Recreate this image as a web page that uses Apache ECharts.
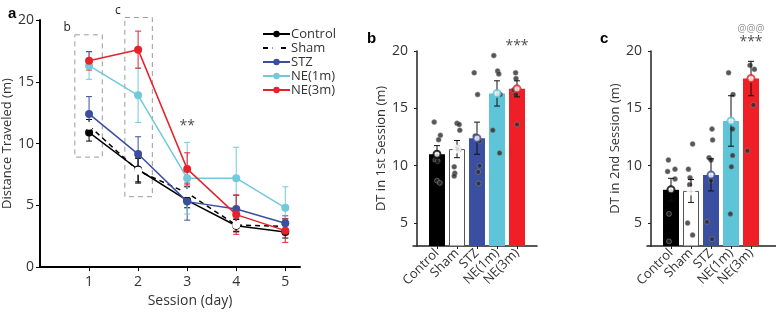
<!DOCTYPE html>
<html><head><meta charset="utf-8">
<script src="https://cdn.jsdelivr.net/npm/echarts@6/dist/echarts.min.js"></script>
<style>html,body{margin:0;padding:0;background:#fff}#c{width:776px;height:313px}</style>
</head><body><div id="c"></div>
<script>
// ---------- data ----------
const groups = ['Control', 'Sham', 'STZ', 'NE(1m)', 'NE(3m)'];
const sessions = [1, 2, 3, 4, 5];
const sessionTicks = [1, 2, 3, 4, 5];
const yTicksA = [0, 5, 10, 15, 20];
const yTicksBC = [5, 10, 15, 20];

const controlMean = [10.9, 7.9, 5.4, 3.35, 2.85];
const controlErr  = [0.7, 1.0, 0.6, 0.5, 0.5];
const shamMean    = [11.45, 7.8, 6.0, 3.4, 3.3];
const shamErr     = [0.5, 1.0, 0.5, 0.5, 0.6];
const stzMean     = [12.4, 9.15, 5.3, 4.7, 3.55];
const stzErr      = [1.4, 1.4, 1.5, 1.1, 0.6];
const ne1Mean     = [16.3, 13.9, 7.2, 7.2, 4.8];
const ne1Err      = [1.1, 2.2, 2.9, 2.5, 1.7];
const ne3Mean     = [16.7, 17.6, 7.95, 4.25, 2.95];
const ne3Err      = [0.75, 1.5, 1.3, 1.6, 0.95];

// dashed highlight boxes in panel a: [xFrom, xTo, yBottom, yTop, label]
const boxes = [[0.71, 1.27, 8.9, 18.8, 'b'], [1.73, 2.29, 5.7, 20.2, 'c']];

// panel b: 1st session
const s1Mean = [11.0, 11.45, 12.4, 16.3, 16.7];
const s1Err  = [0.75, 0.75, 1.4, 1.1, 0.7];
// individual animals: [jitter (category units), value]
const s1Dots = [
  [[-0.14, 13.8], [0.17, 12.65], [0.08, 12.27], [-0.08, 10.5], [0.03, 10.4], [0, 8.7], [0.14, 8.5]],
  [[0, 13.7], [0.11, 13.6], [0.14, 13.1], [0.03, 11.6], [0.09, 11.4], [-0.14, 9.9], [-0.11, 9.35], [-0.14, 9.1]],
  [[-0.14, 18.1], [0.03, 16.2], [-0.09, 12.6], [0.03, 12.35], [0.13, 12.15], [0.13, 10.0], [0.06, 9.45], [0.08, 8.45]],
  [[-0.16, 19.6], [0.03, 18.25], [0.09, 18.0], [0.16, 16.2], [-0.21, 13.1], [0.13, 11.1]],
  [[-0.07, 18.1], [-0.05, 17.6], [-0.03, 16.8], [-0.17, 16.6], [0.03, 16.5], [-0.08, 16.2], [0, 13.6]]
];
// panel c: 2nd session
const s2Mean = [7.9, 7.8, 9.2, 13.9, 17.6];
const s2Err  = [1.0, 1.0, 1.4, 2.2, 1.5];
const s2Dots = [
  [[-0.13, 10.5], [-0.17, 9.5], [0.2, 9.7], [0.2, 8.85], [-0.1, 5.8], [-0.1, 3.4]],
  [[0.08, 11.9], [-0.13, 9.7], [-0.05, 8.95], [-0.07, 8.35], [-0.17, 5.0], [0.08, 3.95]],
  [[0.05, 13.2], [0.08, 12.25], [-0.1, 10.7], [0, 10.5], [0, 8.7], [-0.2, 5.1], [0.05, 3.6]],
  [[-0.12, 18.1], [0.1, 16.2], [0.08, 13.2], [0.08, 10.9], [0.02, 9.9], [-0.03, 5.8]],
  [[-0.05, 18.75], [0.17, 18.4], [0.12, 15.3], [-0.18, 11.3]]
];
// significance marks: [panel, x, y, text]
const marks = [[0, 3, 11.4, '**'], [1, 5, 20.4, '***'], [2, 5, 20.8, '***'], [2, 5, 21.9, '@@@']];

// ---------- styles ----------
const FONT = 'Open Sans';
const lineColors = ['#000000', '#000000', '#3c4f9e', '#72c9da', '#e5222b'];
const barColors  = ['#000000', '#ffffff', '#3b4fa1', '#5ec4d8', '#ee1f27'];
const means = [controlMean, shamMean, stzMean, ne1Mean, ne3Mean];
const errs  = [controlErr, shamErr, stzErr, ne1Err, ne3Err];

function errRender(cap, lw) {
  return function (params, api) {
    const x = api.value(0), lo = api.value(1), hi = api.value(2);
    const a = api.coord([x, hi]), b = api.coord([x, lo]);
    const st = { stroke: api.visual('color'), lineWidth: lw };
    return { type: 'group', children: [
      { type: 'line', shape: { x1: a[0], y1: a[1], x2: b[0], y2: b[1] }, style: st },
      { type: 'line', shape: { x1: a[0] - cap, y1: a[1], x2: a[0] + cap, y2: a[1] }, style: st },
      { type: 'line', shape: { x1: b[0] - cap, y1: b[1], x2: b[0] + cap, y2: b[1] }, style: st }
    ]};
  };
}

const series = [];
// panel a: error bars
groups.forEach((g, i) => {
  series.push({
    type: 'custom', xAxisIndex: 0, yAxisIndex: 0, z: 2,
    itemStyle: { color: lineColors[i] },
    renderItem: errRender(3, 1),
    data: sessions.map((s, k) => [s, means[i][k] - errs[i][k], means[i][k] + errs[i][k]]),
    silent: true
  });
});
// panel a: lines
groups.forEach((g, i) => {
  const sham = g === 'Sham';
  series.push({
    name: g, type: 'line', xAxisIndex: 0, yAxisIndex: 0, z: 3 + i,
    symbol: sham ? 'emptyCircle' : 'circle', symbolSize: sham ? 6 : 8,
    color: lineColors[i],
    lineStyle: { width: 1.5, color: lineColors[i], type: sham ? [5, 4] : 'solid' },
    itemStyle: { color: sham ? '#fff' : lineColors[i], borderColor: lineColors[i], borderWidth: sham ? 1.5 : 0 },
    data: sessions.map((s, k) => [s, means[i][k]])
  });
});
// panel a: dashed boxes
series.push({
  type: 'custom', xAxisIndex: 0, yAxisIndex: 0, z: 1, silent: true, clip: false,
  renderItem: function (params, api) {
    const p1 = api.coord([api.value(0), api.value(3)]);
    const p2 = api.coord([api.value(1), api.value(2)]);
    return { type: 'group', children: [
      { type: 'rect', shape: { x: p1[0], y: p1[1], width: p2[0] - p1[0], height: p2[1] - p1[1] },
        style: { fill: 'none', stroke: '#9a9a9a', lineWidth: 1, lineDash: [5, 4] } },
      { type: 'text', x: p1[0] - 4, y: p1[1] - 1,
        style: { text: boxes[params.dataIndex][4], fill: '#222', font: '12px ' + FONT, align: 'right', verticalAlign: 'bottom' } }
    ]};
  },
  data: boxes.map(b => [b[0], b[1], b[2], b[3]])
});

// panels b, c
function barPanel(idx, meanArr, errArr, dots) {
  series.push({
    type: 'bar', xAxisIndex: idx, yAxisIndex: idx, barWidth: 16, clip: true, z: 1,
    data: meanArr.map((v, i) => ({ value: [i + 1, v],
      itemStyle: { color: barColors[i], borderColor: i === 1 ? '#555' : barColors[i], borderWidth: i === 1 ? 1 : 0 } })),
    silent: true
  });
  const pts = [];
  dots.forEach((arr, i) => arr.forEach(d => pts.push([i + 1 + d[0], d[1]])));
  series.push({
    type: 'scatter', xAxisIndex: idx, yAxisIndex: idx, z: 3, symbolSize: 5, silent: true,
    itemStyle: { color: '#2c2c2c', borderColor: '#8c8c8c', borderWidth: 0.7 },
    data: pts
  });
  series.push({
    type: 'custom', xAxisIndex: idx, yAxisIndex: idx, z: 4, silent: true,
    itemStyle: { color: '#111' },
    renderItem: errRender(3, 1),
    data: meanArr.map((v, i) => [i + 1, v - errArr[i], v + errArr[i]])
  });
  series.push({
    type: 'scatter', xAxisIndex: idx, yAxisIndex: idx, z: 5, symbol: 'emptyCircle', symbolSize: 7, silent: true,
    data: meanArr.map((v, i) => ({ value: [i + 1, v],
      itemStyle: { color: i === 0 ? '#000' : barColors[i], borderColor: i === 0 ? '#aaa' : '#222', borderWidth: 1.2 } }))
  });
}
barPanel(1, s1Mean, s1Err, s1Dots);
barPanel(2, s2Mean, s2Err, s2Dots);

// significance marks
marks.forEach(m => {
  series.push({
    type: 'scatter', xAxisIndex: m[0], yAxisIndex: m[0], symbolSize: 1, clip: false, silent: true, z: 6,
    itemStyle: { color: 'rgba(0,0,0,0)' },
    label: { show: true, position: 'inside', formatter: m[3],
      color: m[3] === '@@@' ? '#777' : '#222', fontSize: m[3] === '@@@' ? 10 : 14, fontFamily: FONT },
    data: [[m[1], m[2]]]
  });
});

const axisLbl = { color: '#333', fontSize: 14, fontFamily: FONT };
const option = {
  animation: false,
  backgroundColor: '#fff',
  textStyle: { fontFamily: FONT },
  title: [
    { text: 'a', left: 3, top: 1, textStyle: { fontSize: 15, fontWeight: 'bold', color: '#000', fontFamily: 'Liberation Sans' } },
    { text: 'b', left: 362, top: 26, textStyle: { fontSize: 15, fontWeight: 'bold', color: '#000', fontFamily: 'Liberation Sans' } },
    { text: 'c', left: 595, top: 26, textStyle: { fontSize: 15, fontWeight: 'bold', color: '#000', fontFamily: 'Liberation Sans' } }
  ],
  legend: {
    orient: 'vertical', left: 262, top: 27, itemWidth: 27, itemHeight: 8, itemGap: 0, padding: 0,
    selectedMode: false, data: groups,
    textStyle: { fontSize: 13, color: '#333', fontFamily: FONT, lineHeight: 14, padding: [0, 0, 0, -4] }
  },
  grid: [
    { left: 40, top: 20, width: 260, height: 252 },
    { left: 413, top: 51, width: 124, height: 195 },
    { left: 647, top: 51, width: 135, height: 195 }
  ],
  xAxis: [
    { type: 'value', gridIndex: 0, min: 0, max: 5.3, splitLine: { show: false },
      axisLine: { lineStyle: { color: '#000', width: 2 } },
      axisTick: { customValues: sessionTicks, length: 4, lineStyle: { color: '#000' } },
      axisLabel: Object.assign({ customValues: sessionTicks, margin: 8 }, axisLbl),
      name: 'Session (day)', nameLocation: 'middle', nameGap: 24,
      nameTextStyle: { fontSize: 14, color: '#333', fontFamily: FONT, padding: [0, 0, 0, 40] } },
    { type: 'value', gridIndex: 1, min: -0.2, max: 6, splitLine: { show: false },
      axisLine: { lineStyle: { color: '#222', width: 1.5 } },
      axisTick: { customValues: sessionTicks, length: 3, lineStyle: { color: '#222' } },
      axisLabel: Object.assign({ customValues: sessionTicks, rotate: 45, margin: 5, formatter: v => groups[Math.round(v) - 1] }, axisLbl, { fontSize: 13 }) },
    { type: 'value', gridIndex: 2, min: -0.2, max: 6.25, splitLine: { show: false },
      axisLine: { lineStyle: { color: '#222', width: 1.5 } },
      axisTick: { customValues: sessionTicks, length: 3, lineStyle: { color: '#222' } },
      axisLabel: Object.assign({ customValues: sessionTicks, rotate: 45, margin: 5, formatter: v => groups[Math.round(v) - 1] }, axisLbl, { fontSize: 13 }) }
  ],
  yAxis: [
    { type: 'value', gridIndex: 0, min: 0, max: 20, splitLine: { show: false },
      axisLine: { show: true, lineStyle: { color: '#000', width: 2 } },
      axisTick: { show: true, customValues: yTicksA, length: 4, lineStyle: { color: '#000' } },
      axisLabel: Object.assign({ customValues: yTicksA, margin: 6 }, axisLbl),
      name: 'Distance Traveled (m)', nameLocation: 'middle', nameGap: 24,
      nameTextStyle: { fontSize: 13, color: '#333', fontFamily: FONT } },
    { type: 'value', gridIndex: 1, min: 3, max: 20, splitLine: { show: false },
      axisLine: { show: true, lineStyle: { color: '#222', width: 1.5 } },
      axisTick: { show: true, customValues: yTicksBC, length: 3, lineStyle: { color: '#222' } },
      axisLabel: Object.assign({ customValues: yTicksBC, margin: 5 }, axisLbl),
      name: 'DT in 1st Session (m)', nameLocation: 'middle', nameGap: 23,
      nameTextStyle: { fontSize: 13, color: '#333', fontFamily: FONT } },
    { type: 'value', gridIndex: 2, min: 3, max: 20, splitLine: { show: false },
      axisLine: { show: true, lineStyle: { color: '#222', width: 1.5 } },
      axisTick: { show: true, customValues: yTicksBC, length: 3, lineStyle: { color: '#222' } },
      axisLabel: Object.assign({ customValues: yTicksBC, margin: 5 }, axisLbl),
      name: 'DT in 2nd Session (m)', nameLocation: 'middle', nameGap: 23,
      nameTextStyle: { fontSize: 13, color: '#333', fontFamily: FONT } }
  ],
  series: series
};
const chart = echarts.init(document.getElementById('c'), null, { renderer: 'canvas' });
chart.setOption(option);
</script></body></html>
